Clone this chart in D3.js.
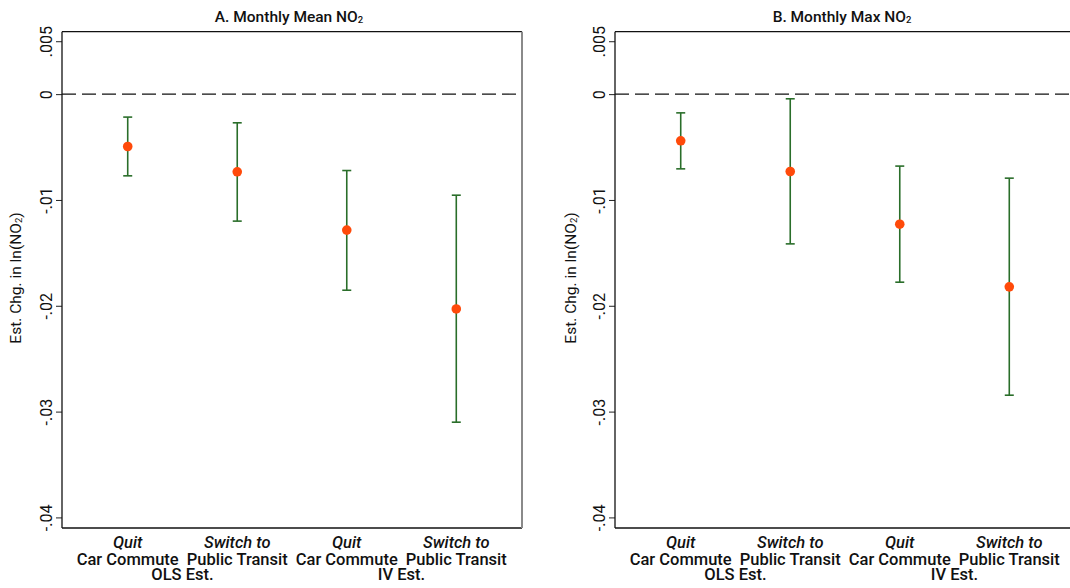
<!DOCTYPE html>
<html>
<head>
<meta charset="utf-8">
<script src="https://cdn.jsdelivr.net/npm/d3@7"></script>
<style>
  html, body { margin: 0; padding: 0; background: #fff; }
  svg { display: block; font-family: Roboto, "DejaVu Sans", sans-serif; font-weight: 500; }
</style>
</head>
<body>
<svg id="chart" width="1070" height="588"></svg>
<script>
// Outcome categories (italic top line, regular second line) and estimator groups
const catTop = ["Quit", "Switch to", "Quit", "Switch to"];
const catBottom = ["Car Commute", "Public Transit", "Car Commute", "Public Transit"];
const groups = ["OLS Est.", "IV Est."];
const yTicks = [0.005, 0, -0.01, -0.02, -0.03, -0.04];
const yTickLabels = [".005", "0", "-.01", "-.02", "-.03", "-.04"];

// Panel A: monthly mean NO2 — point estimates and 95% CI bounds
const meanEst = [-0.00495, -0.00734, -0.01285, -0.0203];
const meanLo  = [-0.00772, -0.0120, -0.01853, -0.0310];
const meanHi  = [-0.00217, -0.00271, -0.00722, -0.00955];

// Panel B: monthly max NO2
const maxEst = [-0.00441, -0.00731, -0.01229, -0.01821];
const maxLo  = [-0.00706, -0.01415, -0.01777, -0.02845];
const maxHi  = [-0.00177, -0.00044, -0.0068, -0.00794];

const svg = d3.select("#chart");
const plotTop = 31.7, plotBottom = 528, plotW = 460;
const green = "#2a6e2a", orange = "#ff4a0a";

function panel(left, title, est, lo, hi, axisX) {
  const g = svg.append("g");
  const x = d3.scaleLinear().domain([0.4, 4.6]).range([left, left + plotW]);
  const y = d3.scaleLinear().domain([0.0059, -0.041]).range([plotTop, plotBottom]);

  // title with subscript
  const t = g.append("text")
    .attr("x", left + plotW / 2 - 3).attr("y", 22)
    .attr("text-anchor", "middle").attr("font-size", 15.5).attr("fill", "#111");
  t.append("tspan").text(title);
  t.append("tspan").attr("font-size", 9.5).attr("dy", 1).text("2");

  // y axis (ticks outward, rotated labels)
  const yAxis = d3.axisLeft(y).tickValues(yTicks).tickSize(6)
    .tickFormat((d, i) => yTickLabels[i]);
  const ya = g.append("g").attr("transform", `translate(${left},0)`).call(yAxis);
  ya.select(".domain").remove();
  ya.selectAll(".tick line").attr("stroke", "#222");
  ya.selectAll(".tick text")
    .attr("x", null).attr("dy", null).attr("y", null)
    .attr("text-anchor", "middle")
    .attr("font-size", 16).attr("fill", "#111")
    .attr("font-family", "Roboto, sans-serif")
    .attr("font-weight", 400)
    .attr("transform", "translate(-10,0) rotate(-90)");

  // y axis title
  const yt = g.append("text")
    .attr("transform", `translate(${axisX},278) rotate(-90)`)
    .attr("text-anchor", "middle").attr("font-size", 15.5).attr("font-weight", 400)
    .attr("fill", "#111");
  yt.append("tspan").text("Est. Chg. in ln(NO");
  yt.append("tspan").attr("font-size", 9.5).attr("dy", 1).text("2");
  yt.append("tspan").attr("dy", -1).text(")");

  // zero reference line
  g.append("line")
    .attr("x1", left).attr("x2", left + plotW)
    .attr("y1", y(0)).attr("y2", y(0))
    .attr("stroke", "#111").attr("stroke-width", 1.2)
    .attr("stroke-dasharray", "14,6");

  // frame: top, left, bottom dark; right grey
  g.append("line").attr("x1", left).attr("x2", left + plotW).attr("y1", plotTop).attr("y2", plotTop)
    .attr("stroke", "#111").attr("stroke-width", 1.3);
  g.append("line").attr("x1", left).attr("x2", left + plotW).attr("y1", plotBottom).attr("y2", plotBottom)
    .attr("stroke", "#111").attr("stroke-width", 1.6);
  g.append("line").attr("x1", left).attr("x2", left).attr("y1", plotTop).attr("y2", plotBottom)
    .attr("stroke", "#111").attr("stroke-width", 1.3);
  g.append("line").attr("x1", left + plotW).attr("x2", left + plotW).attr("y1", plotTop).attr("y2", plotBottom)
    .attr("stroke", "#8a8a8a").attr("stroke-width", 2);

  const idx = d3.range(est.length);
  const cap = 4.5;
  // confidence intervals
  const ci = g.append("g").attr("stroke", green).attr("stroke-width", 1.6);
  ci.selectAll(".v").data(idx).join("line").attr("class", "v")
    .attr("x1", i => x(i + 1)).attr("x2", i => x(i + 1))
    .attr("y1", i => y(hi[i])).attr("y2", i => y(lo[i]));
  ci.selectAll(".ch").data(idx).join("line").attr("class", "ch")
    .attr("x1", i => x(i + 1) - cap).attr("x2", i => x(i + 1) + cap)
    .attr("y1", i => y(hi[i])).attr("y2", i => y(hi[i]));
  ci.selectAll(".cl").data(idx).join("line").attr("class", "cl")
    .attr("x1", i => x(i + 1) - cap).attr("x2", i => x(i + 1) + cap)
    .attr("y1", i => y(lo[i])).attr("y2", i => y(lo[i]));

  // point estimates
  g.selectAll("circle").data(idx).join("circle")
    .attr("cx", i => x(i + 1)).attr("cy", i => y(est[i]))
    .attr("r", 4.8).attr("fill", orange);

  // category labels
  idx.forEach(i => {
    g.append("text").attr("x", x(i + 1)).attr("y", 548)
      .attr("text-anchor", "middle").attr("font-size", 16.5).attr("font-style", "italic")
      .attr("fill", "#111").text(catTop[i]);
    g.append("text").attr("x", x(i + 1)).attr("y", 565)
      .attr("text-anchor", "middle").attr("font-size", 16.5)
      .attr("fill", "#111").text(catBottom[i]);
  });
  groups.forEach((lab, j) => {
    g.append("text").attr("x", x(2 * j + 1.5)).attr("y", 580)
      .attr("text-anchor", "middle").attr("font-size", 16.5)
      .attr("fill", "#111").text(lab);
  });
}

panel(62, "A. Monthly Mean NO", meanEst, meanLo, meanHi, 21);
panel(615, "B. Monthly Max NO", maxEst, maxLo, maxHi, 576);
</script>
</body>
</html>
